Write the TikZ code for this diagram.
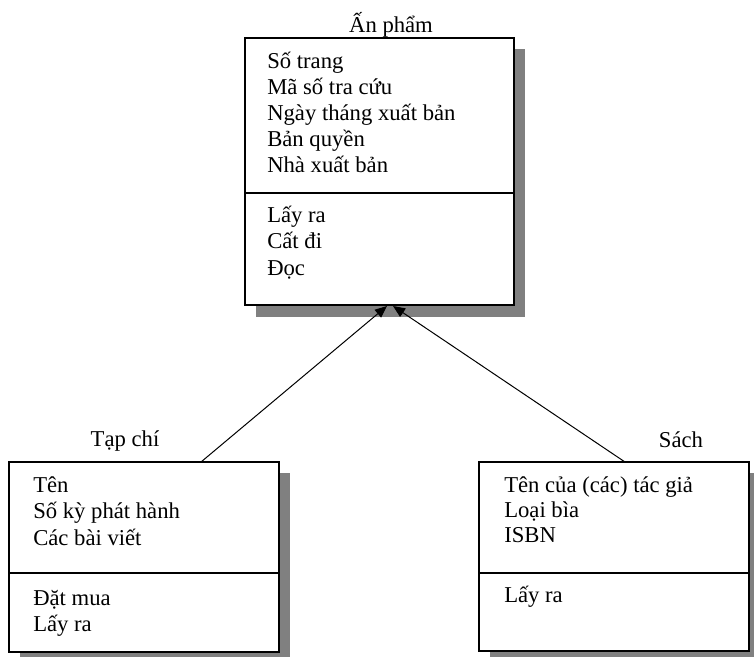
\documentclass[tikz,border=0pt]{standalone}
\usepackage{fontspec}
\setmainfont{Liberation Serif}
\usetikzlibrary{arrows.meta}
\begin{document}
\begin{tikzpicture}[x=0.75pt,y=-0.75pt,
  classbox/.style={draw=black,line width=1.5pt,fill=white},
  shadowbox/.style={fill=black!50,draw=none},
  divider/.style={line width=1.5pt},
  member/.style={anchor=base west,inner sep=0pt,font=\fontsize{17pt}{20pt}\selectfont},
  classname/.style={anchor=base,inner sep=0pt,font=\fontsize{17pt}{20pt}\selectfont},
  inherit/.style={line width=0.75pt,-{Triangle[length=9pt,width=7.5pt]}}]
\useasboundingbox (0,0) rectangle (754,657);
% shadows
\fill[shadowbox] (256,49) rectangle (525,317);
\fill[shadowbox] (20,473) rectangle (290,663);
\fill[shadowbox] (490,473) rectangle (760,663);
% boxes
\draw[classbox] (245,38) rectangle (514,305);
\draw[divider] (245,193) -- (514,193);
\draw[classbox] (9,462) rectangle (279,652);
\draw[divider] (9,573) -- (279,573);
\draw[classbox] (479,462) rectangle (749,651);
\draw[divider] (479,573) -- (749,573);
% anchor coordinates
\coordinate (anpham-l) at (387,306);
\coordinate (anpham-r) at (393,306);
\coordinate (tapchi-top) at (201,462);
\coordinate (sach-top) at (625,462);
% class names
\node[classname] (t1) at (391,32) {Ấn phẩm};
\node[classname] (t2) at (125,446) {Tạp chí};
\node[classname] (t3) at (681,447) {Sách};
% An pham members
\node[member] (a1) at (267,68) {Số trang};
\node[member] (a2) at (267,94) {Mã số tra cứu};
\node[member] (a3) at (267,120) {Ngày tháng xuất bản};
\node[member] (a4) at (267,146) {Bản quyền};
\node[member] (a5) at (267,172) {Nhà xuất bản};
\node[member] (a6) at (267,222) {Lấy ra};
\node[member] (a7) at (267,248) {Cất đi};
\node[member] (a8) at (267,275) {Đọc};
% Tap chi members
\node[member] (b1) at (33,492) {Tên};
\node[member] (b2) at (33,518) {Số kỳ phát hành};
\node[member] (b3) at (33,545) {Các bài viết};
\node[member] (b4) at (33,605) {Đặt mua};
\node[member] (b5) at (33,631) {Lấy ra};
% Sach members
\node[member] (c1) at (504,492) {Tên của (các) tác giả};
\node[member] (c2) at (504,517) {Loại bìa};
\node[member] (c3) at (504,542) {ISBN};
\node[member] (c4) at (504,602) {Lấy ra};
% connectors
\draw[inherit] (tapchi-top) -- (anpham-l);
\draw[inherit] (sach-top) -- (anpham-r);
\end{tikzpicture}
\end{document}
